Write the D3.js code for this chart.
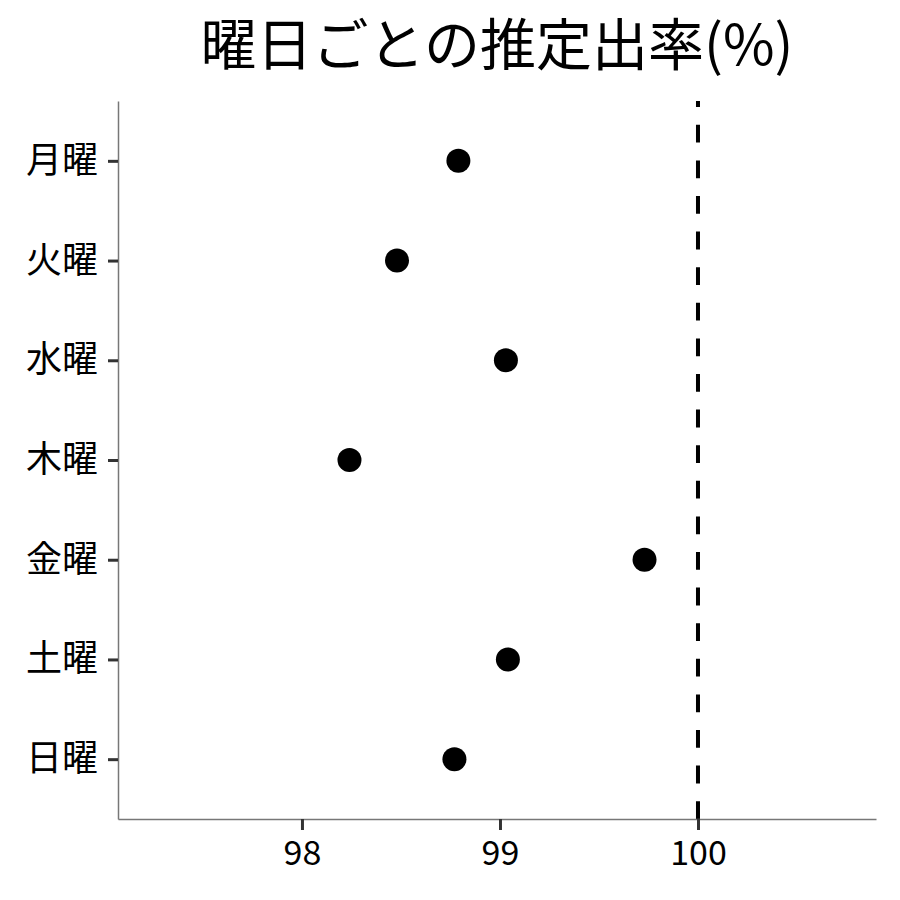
<!DOCTYPE html>
<html>
<head>
<meta charset="utf-8">
<script src="https://cdn.jsdelivr.net/npm/d3@7"></script>
<style>
body{margin:0;background:#fff;}
text{font-family:"Noto Sans CJK JP","Noto Sans",sans-serif;}
</style>
</head>
<body>
<script>
// data
var days = ["月曜","火曜","水曜","木曜","金曜","土曜","日曜"];
var rates = [98.79, 98.48, 99.03, 98.24, 99.73, 99.04, 98.77];
var xTicks = [98, 99, 100];
var refValue = 100;
var titleText = "曜日ごとの推定出率(%)";

var svgwidth = 900, svgheight = 900;
var margin = {top: 101, right: 24, bottom: 81, left: 118};
var width = svgwidth - margin.left - margin.right;
var height = svgheight - margin.top - margin.bottom;

var svg = d3.select("body").append("svg")
	.attr("width", svgwidth)
	.attr("height", svgheight);

svg.append("rect")
	.attr("width", svgwidth)
	.attr("height", svgheight)
	.attr("fill", "#fff");

var g = svg.append("g")
	.attr("transform", "translate(" + margin.left + "," + margin.top + ")");

var x = d3.scaleLinear().domain([97.071, 100.899]).range([0, width]);
// ggplot-style discrete expansion of 0.6 on each side
var y = d3.scalePoint().domain(days).range([0, height]).padding(0.6);

// reference line, dashed from bottom to top
g.append("line")
	.attr("x1", x(refValue)).attr("x2", x(refValue))
	.attr("y1", height).attr("y2", 0)
	.attr("stroke", "#000")
	.attr("stroke-width", 4)
	.attr("stroke-dasharray", "17.8,17.8");

// x axis
var xAxis = g.append("g")
	.attr("transform", "translate(0," + height + ")")
	.call(d3.axisBottom(x).tickValues(xTicks).tickSize(11).tickSizeOuter(0).tickPadding(6).tickFormat(d3.format("d")));
xAxis.select(".domain").style("stroke", "#777").style("stroke-width", "1.5px");
xAxis.selectAll(".tick line").style("stroke", "#333").style("stroke-width", "3px");
xAxis.selectAll(".tick text").style("fill", "#000").style("font-size", "34px").attr("dy", "0.85em");

// y axis
var yAxis = g.append("g")
	.call(d3.axisLeft(y).tickSize(10).tickSizeOuter(0).tickPadding(10));
yAxis.select(".domain").style("stroke", "#777").style("stroke-width", "1.5px");
yAxis.selectAll(".tick line").style("stroke", "#333").style("stroke-width", "3px");
yAxis.selectAll(".tick text").style("fill", "#000").style("font-size", "36px");

// points
g.selectAll("circle.pt")
	.data(days)
	.enter().append("circle")
	.attr("class", "pt")
	.attr("cx", function(d, i){ return x(rates[i]); })
	.attr("cy", function(d){ return y(d); })
	.attr("r", 12)
	.attr("fill", "#000");

// title
svg.append("text")
	.attr("x", margin.left + width / 2)
	.attr("y", 65)
	.attr("text-anchor", "middle")
	.style("font-size", "56px")
	.attr("fill", "#000")
	.text(titleText);
</script>
</body>
</html>
